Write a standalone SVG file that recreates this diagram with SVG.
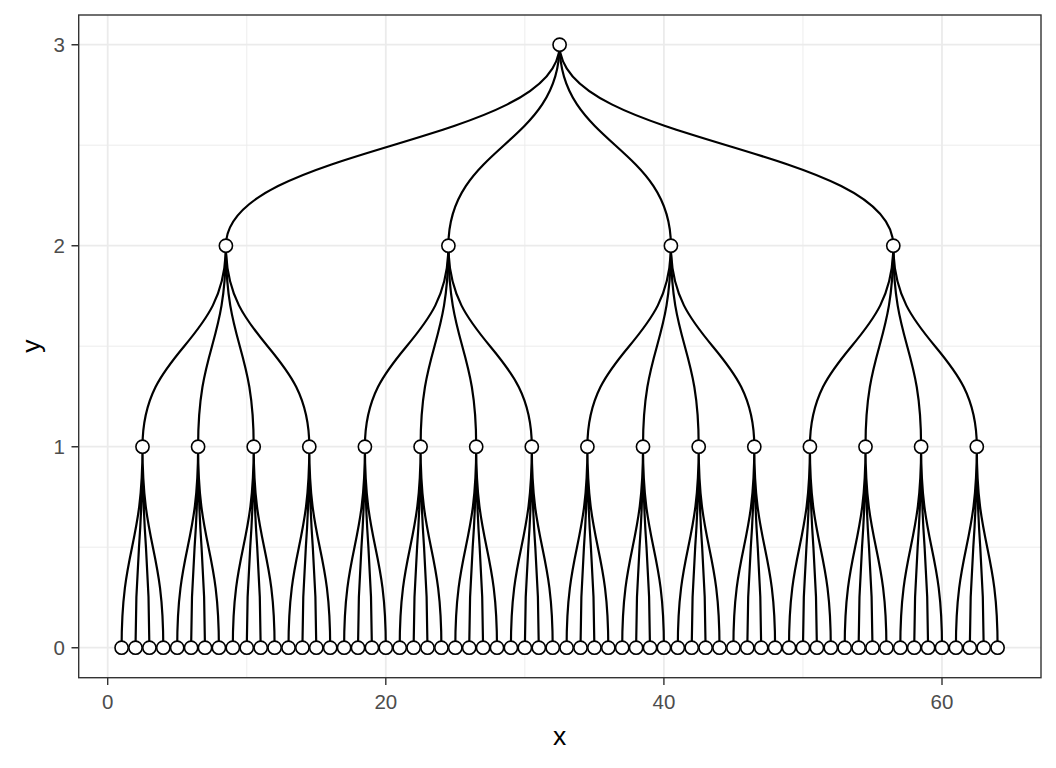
<svg xmlns="http://www.w3.org/2000/svg" width="1056" height="768" viewBox="0 0 1056 768">
<style>
.bg{fill:#fff}
.gmaj{stroke:#EBEBEB;stroke-width:1.8;fill:none}
.gmin{stroke:#EBEBEB;stroke-width:0.9;fill:none}
.panel{fill:none;stroke:#333333;stroke-width:1.4}
.tick{stroke:#333333;stroke-width:1.4}
.tl{font-family:"Liberation Sans",Arial,sans-serif;font-size:20.5px;fill:#4D4D4D}
.at{font-family:"Liberation Sans",Arial,sans-serif;font-size:26.5px;fill:#000}
.e{fill:none;stroke:#000;stroke-width:2.2}
.n circle{fill:#fff;stroke:#000;stroke-width:1.6}
</style>
<rect class="bg" x="0" y="0" width="1056" height="768"/>
<g id="grid">
<path class="gmin" d="M79,547.2H1041M79,346.2H1041M79,145.2H1041M246.75,15V677.7M524.85,15V677.7M802.95,15V677.7"/>
<path class="gmaj" d="M79,647.7H1041M79,446.7H1041M79,245.7H1041M79,44.7H1041M107.7,15V677.7M385.8,15V677.7M663.9,15V677.7M942,15V677.7"/>
</g>
<g id="connectors">
<path class="e" d="M559.6,44.7C559.6,145.2 225.9,145.2 225.9,245.7"/>
<path class="e" d="M559.6,44.7C559.6,145.2 448.4,145.2 448.4,245.7"/>
<path class="e" d="M559.6,44.7C559.6,145.2 670.9,145.2 670.9,245.7"/>
<path class="e" d="M559.6,44.7C559.6,145.2 893.3,145.2 893.3,245.7"/>
<path class="e" d="M225.9,245.7C225.9,346.2 142.5,346.2 142.5,446.7"/>
<path class="e" d="M225.9,245.7C225.9,346.2 198.1,346.2 198.1,446.7"/>
<path class="e" d="M225.9,245.7C225.9,346.2 253.7,346.2 253.7,446.7"/>
<path class="e" d="M225.9,245.7C225.9,346.2 309.3,346.2 309.3,446.7"/>
<path class="e" d="M448.4,245.7C448.4,346.2 364.9,346.2 364.9,446.7"/>
<path class="e" d="M448.4,245.7C448.4,346.2 420.6,346.2 420.6,446.7"/>
<path class="e" d="M448.4,245.7C448.4,346.2 476.2,346.2 476.2,446.7"/>
<path class="e" d="M448.4,245.7C448.4,346.2 531.8,346.2 531.8,446.7"/>
<path class="e" d="M670.9,245.7C670.9,346.2 587.4,346.2 587.4,446.7"/>
<path class="e" d="M670.9,245.7C670.9,346.2 643,346.2 643,446.7"/>
<path class="e" d="M670.9,245.7C670.9,346.2 698.7,346.2 698.7,446.7"/>
<path class="e" d="M670.9,245.7C670.9,346.2 754.3,346.2 754.3,446.7"/>
<path class="e" d="M893.3,245.7C893.3,346.2 809.9,346.2 809.9,446.7"/>
<path class="e" d="M893.3,245.7C893.3,346.2 865.5,346.2 865.5,446.7"/>
<path class="e" d="M893.3,245.7C893.3,346.2 921.1,346.2 921.1,446.7"/>
<path class="e" d="M893.3,245.7C893.3,346.2 976.8,346.2 976.8,446.7"/>
<path class="e" d="M142.5,446.7C142.5,547.2 121.6,547.2 121.6,647.7M142.5,446.7C142.5,547.2 135.5,547.2 135.5,647.7M142.5,446.7C142.5,547.2 149.4,547.2 149.4,647.7M142.5,446.7C142.5,547.2 163.3,547.2 163.3,647.7"/>
<path class="e" d="M198.1,446.7C198.1,547.2 177.2,547.2 177.2,647.7M198.1,446.7C198.1,547.2 191.1,547.2 191.1,647.7M198.1,446.7C198.1,547.2 205,547.2 205,647.7M198.1,446.7C198.1,547.2 218.9,547.2 218.9,647.7"/>
<path class="e" d="M253.7,446.7C253.7,547.2 232.8,547.2 232.8,647.7M253.7,446.7C253.7,547.2 246.75,547.2 246.75,647.7M253.7,446.7C253.7,547.2 260.7,547.2 260.7,647.7M253.7,446.7C253.7,547.2 274.6,547.2 274.6,647.7"/>
<path class="e" d="M309.3,446.7C309.3,547.2 288.5,547.2 288.5,647.7M309.3,446.7C309.3,547.2 302.4,547.2 302.4,647.7M309.3,446.7C309.3,547.2 316.3,547.2 316.3,647.7M309.3,446.7C309.3,547.2 330.2,547.2 330.2,647.7"/>
<path class="e" d="M364.9,446.7C364.9,547.2 344.1,547.2 344.1,647.7M364.9,446.7C364.9,547.2 358,547.2 358,647.7M364.9,446.7C364.9,547.2 371.9,547.2 371.9,647.7M364.9,446.7C364.9,547.2 385.8,547.2 385.8,647.7"/>
<path class="e" d="M420.6,446.7C420.6,547.2 399.7,547.2 399.7,647.7M420.6,446.7C420.6,547.2 413.6,547.2 413.6,647.7M420.6,446.7C420.6,547.2 427.5,547.2 427.5,647.7M420.6,446.7C420.6,547.2 441.4,547.2 441.4,647.7"/>
<path class="e" d="M476.2,446.7C476.2,547.2 455.3,547.2 455.3,647.7M476.2,446.7C476.2,547.2 469.2,547.2 469.2,647.7M476.2,446.7C476.2,547.2 483.1,547.2 483.1,647.7M476.2,446.7C476.2,547.2 497,547.2 497,647.7"/>
<path class="e" d="M531.8,446.7C531.8,547.2 510.9,547.2 510.9,647.7M531.8,446.7C531.8,547.2 524.85,547.2 524.85,647.7M531.8,446.7C531.8,547.2 538.8,547.2 538.8,647.7M531.8,446.7C531.8,547.2 552.7,547.2 552.7,647.7"/>
<path class="e" d="M587.4,446.7C587.4,547.2 566.6,547.2 566.6,647.7M587.4,446.7C587.4,547.2 580.5,547.2 580.5,647.7M587.4,446.7C587.4,547.2 594.4,547.2 594.4,647.7M587.4,446.7C587.4,547.2 608.3,547.2 608.3,647.7"/>
<path class="e" d="M643,446.7C643,547.2 622.2,547.2 622.2,647.7M643,446.7C643,547.2 636.1,547.2 636.1,647.7M643,446.7C643,547.2 650,547.2 650,647.7M643,446.7C643,547.2 663.9,547.2 663.9,647.7"/>
<path class="e" d="M698.7,446.7C698.7,547.2 677.8,547.2 677.8,647.7M698.7,446.7C698.7,547.2 691.7,547.2 691.7,647.7M698.7,446.7C698.7,547.2 705.6,547.2 705.6,647.7M698.7,446.7C698.7,547.2 719.5,547.2 719.5,647.7"/>
<path class="e" d="M754.3,446.7C754.3,547.2 733.4,547.2 733.4,647.7M754.3,446.7C754.3,547.2 747.3,547.2 747.3,647.7M754.3,446.7C754.3,547.2 761.2,547.2 761.2,647.7M754.3,446.7C754.3,547.2 775.1,547.2 775.1,647.7"/>
<path class="e" d="M809.9,446.7C809.9,547.2 789,547.2 789,647.7M809.9,446.7C809.9,547.2 802.95,547.2 802.95,647.7M809.9,446.7C809.9,547.2 816.9,547.2 816.9,647.7M809.9,446.7C809.9,547.2 830.8,547.2 830.8,647.7"/>
<path class="e" d="M865.5,446.7C865.5,547.2 844.7,547.2 844.7,647.7M865.5,446.7C865.5,547.2 858.6,547.2 858.6,647.7M865.5,446.7C865.5,547.2 872.5,547.2 872.5,647.7M865.5,446.7C865.5,547.2 886.4,547.2 886.4,647.7"/>
<path class="e" d="M921.1,446.7C921.1,547.2 900.3,547.2 900.3,647.7M921.1,446.7C921.1,547.2 914.2,547.2 914.2,647.7M921.1,446.7C921.1,547.2 928.1,547.2 928.1,647.7M921.1,446.7C921.1,547.2 942,547.2 942,647.7"/>
<path class="e" d="M976.8,446.7C976.8,547.2 955.9,547.2 955.9,647.7M976.8,446.7C976.8,547.2 969.8,547.2 969.8,647.7M976.8,446.7C976.8,547.2 983.7,547.2 983.7,647.7M976.8,446.7C976.8,547.2 997.6,547.2 997.6,647.7"/>
</g>
<g id="n0" class="n"><circle cx="559.6" cy="44.7" r="6.6"/></g>
<g id="n1" class="n"><circle cx="225.9" cy="245.7" r="6.6"/></g>
<g id="n2" class="n"><circle cx="448.4" cy="245.7" r="6.6"/></g>
<g id="n3" class="n"><circle cx="670.9" cy="245.7" r="6.6"/></g>
<g id="n4" class="n"><circle cx="893.3" cy="245.7" r="6.6"/></g>
<g id="n5" class="n"><circle cx="142.5" cy="446.7" r="6.6"/></g>
<g id="n6" class="n"><circle cx="198.1" cy="446.7" r="6.6"/></g>
<g id="n7" class="n"><circle cx="253.7" cy="446.7" r="6.6"/></g>
<g id="n8" class="n"><circle cx="309.3" cy="446.7" r="6.6"/></g>
<g id="n9" class="n"><circle cx="364.9" cy="446.7" r="6.6"/></g>
<g id="n10" class="n"><circle cx="420.6" cy="446.7" r="6.6"/></g>
<g id="n11" class="n"><circle cx="476.2" cy="446.7" r="6.6"/></g>
<g id="n12" class="n"><circle cx="531.8" cy="446.7" r="6.6"/></g>
<g id="n13" class="n"><circle cx="587.4" cy="446.7" r="6.6"/></g>
<g id="n14" class="n"><circle cx="643" cy="446.7" r="6.6"/></g>
<g id="n15" class="n"><circle cx="698.7" cy="446.7" r="6.6"/></g>
<g id="n16" class="n"><circle cx="754.3" cy="446.7" r="6.6"/></g>
<g id="n17" class="n"><circle cx="809.9" cy="446.7" r="6.6"/></g>
<g id="n18" class="n"><circle cx="865.5" cy="446.7" r="6.6"/></g>
<g id="n19" class="n"><circle cx="921.1" cy="446.7" r="6.6"/></g>
<g id="n20" class="n"><circle cx="976.8" cy="446.7" r="6.6"/></g>
<g id="l1" class="n"><circle cx="121.6" cy="647.7" r="6.6"/></g>
<g id="l2" class="n"><circle cx="135.5" cy="647.7" r="6.6"/></g>
<g id="l3" class="n"><circle cx="149.4" cy="647.7" r="6.6"/></g>
<g id="l4" class="n"><circle cx="163.3" cy="647.7" r="6.6"/></g>
<g id="l5" class="n"><circle cx="177.2" cy="647.7" r="6.6"/></g>
<g id="l6" class="n"><circle cx="191.1" cy="647.7" r="6.6"/></g>
<g id="l7" class="n"><circle cx="205" cy="647.7" r="6.6"/></g>
<g id="l8" class="n"><circle cx="218.9" cy="647.7" r="6.6"/></g>
<g id="l9" class="n"><circle cx="232.8" cy="647.7" r="6.6"/></g>
<g id="l10" class="n"><circle cx="246.75" cy="647.7" r="6.6"/></g>
<g id="l11" class="n"><circle cx="260.7" cy="647.7" r="6.6"/></g>
<g id="l12" class="n"><circle cx="274.6" cy="647.7" r="6.6"/></g>
<g id="l13" class="n"><circle cx="288.5" cy="647.7" r="6.6"/></g>
<g id="l14" class="n"><circle cx="302.4" cy="647.7" r="6.6"/></g>
<g id="l15" class="n"><circle cx="316.3" cy="647.7" r="6.6"/></g>
<g id="l16" class="n"><circle cx="330.2" cy="647.7" r="6.6"/></g>
<g id="l17" class="n"><circle cx="344.1" cy="647.7" r="6.6"/></g>
<g id="l18" class="n"><circle cx="358" cy="647.7" r="6.6"/></g>
<g id="l19" class="n"><circle cx="371.9" cy="647.7" r="6.6"/></g>
<g id="l20" class="n"><circle cx="385.8" cy="647.7" r="6.6"/></g>
<g id="l21" class="n"><circle cx="399.7" cy="647.7" r="6.6"/></g>
<g id="l22" class="n"><circle cx="413.6" cy="647.7" r="6.6"/></g>
<g id="l23" class="n"><circle cx="427.5" cy="647.7" r="6.6"/></g>
<g id="l24" class="n"><circle cx="441.4" cy="647.7" r="6.6"/></g>
<g id="l25" class="n"><circle cx="455.3" cy="647.7" r="6.6"/></g>
<g id="l26" class="n"><circle cx="469.2" cy="647.7" r="6.6"/></g>
<g id="l27" class="n"><circle cx="483.1" cy="647.7" r="6.6"/></g>
<g id="l28" class="n"><circle cx="497" cy="647.7" r="6.6"/></g>
<g id="l29" class="n"><circle cx="510.9" cy="647.7" r="6.6"/></g>
<g id="l30" class="n"><circle cx="524.85" cy="647.7" r="6.6"/></g>
<g id="l31" class="n"><circle cx="538.8" cy="647.7" r="6.6"/></g>
<g id="l32" class="n"><circle cx="552.7" cy="647.7" r="6.6"/></g>
<g id="l33" class="n"><circle cx="566.6" cy="647.7" r="6.6"/></g>
<g id="l34" class="n"><circle cx="580.5" cy="647.7" r="6.6"/></g>
<g id="l35" class="n"><circle cx="594.4" cy="647.7" r="6.6"/></g>
<g id="l36" class="n"><circle cx="608.3" cy="647.7" r="6.6"/></g>
<g id="l37" class="n"><circle cx="622.2" cy="647.7" r="6.6"/></g>
<g id="l38" class="n"><circle cx="636.1" cy="647.7" r="6.6"/></g>
<g id="l39" class="n"><circle cx="650" cy="647.7" r="6.6"/></g>
<g id="l40" class="n"><circle cx="663.9" cy="647.7" r="6.6"/></g>
<g id="l41" class="n"><circle cx="677.8" cy="647.7" r="6.6"/></g>
<g id="l42" class="n"><circle cx="691.7" cy="647.7" r="6.6"/></g>
<g id="l43" class="n"><circle cx="705.6" cy="647.7" r="6.6"/></g>
<g id="l44" class="n"><circle cx="719.5" cy="647.7" r="6.6"/></g>
<g id="l45" class="n"><circle cx="733.4" cy="647.7" r="6.6"/></g>
<g id="l46" class="n"><circle cx="747.3" cy="647.7" r="6.6"/></g>
<g id="l47" class="n"><circle cx="761.2" cy="647.7" r="6.6"/></g>
<g id="l48" class="n"><circle cx="775.1" cy="647.7" r="6.6"/></g>
<g id="l49" class="n"><circle cx="789" cy="647.7" r="6.6"/></g>
<g id="l50" class="n"><circle cx="802.95" cy="647.7" r="6.6"/></g>
<g id="l51" class="n"><circle cx="816.9" cy="647.7" r="6.6"/></g>
<g id="l52" class="n"><circle cx="830.8" cy="647.7" r="6.6"/></g>
<g id="l53" class="n"><circle cx="844.7" cy="647.7" r="6.6"/></g>
<g id="l54" class="n"><circle cx="858.6" cy="647.7" r="6.6"/></g>
<g id="l55" class="n"><circle cx="872.5" cy="647.7" r="6.6"/></g>
<g id="l56" class="n"><circle cx="886.4" cy="647.7" r="6.6"/></g>
<g id="l57" class="n"><circle cx="900.3" cy="647.7" r="6.6"/></g>
<g id="l58" class="n"><circle cx="914.2" cy="647.7" r="6.6"/></g>
<g id="l59" class="n"><circle cx="928.1" cy="647.7" r="6.6"/></g>
<g id="l60" class="n"><circle cx="942" cy="647.7" r="6.6"/></g>
<g id="l61" class="n"><circle cx="955.9" cy="647.7" r="6.6"/></g>
<g id="l62" class="n"><circle cx="969.8" cy="647.7" r="6.6"/></g>
<g id="l63" class="n"><circle cx="983.7" cy="647.7" r="6.6"/></g>
<g id="l64" class="n"><circle cx="997.6" cy="647.7" r="6.6"/></g>
<g id="axes">
<rect class="panel" x="78.7" y="15" width="962.3" height="662.7"/>
<path class="tick" d="M71.5,647.7H78.7M71.5,446.7H78.7M71.5,245.7H78.7M71.5,44.7H78.7M107.7,677.7V684.9M385.8,677.7V684.9M663.9,677.7V684.9M942,677.7V684.9"/>
<text class="tl" x="65" y="655" text-anchor="end">0</text>
<text class="tl" x="65" y="454" text-anchor="end">1</text>
<text class="tl" x="65" y="253" text-anchor="end">2</text>
<text class="tl" x="65" y="52" text-anchor="end">3</text>
<text class="tl" x="107.7" y="708.5" text-anchor="middle">0</text>
<text class="tl" x="385.8" y="708.5" text-anchor="middle">20</text>
<text class="tl" x="663.9" y="708.5" text-anchor="middle">40</text>
<text class="tl" x="942" y="708.5" text-anchor="middle">60</text>
<text class="at" x="559.6" y="745" text-anchor="middle">x</text>
<text class="at" transform="translate(40,346.2) rotate(-90)" text-anchor="middle">y</text>
</g>
</svg>
